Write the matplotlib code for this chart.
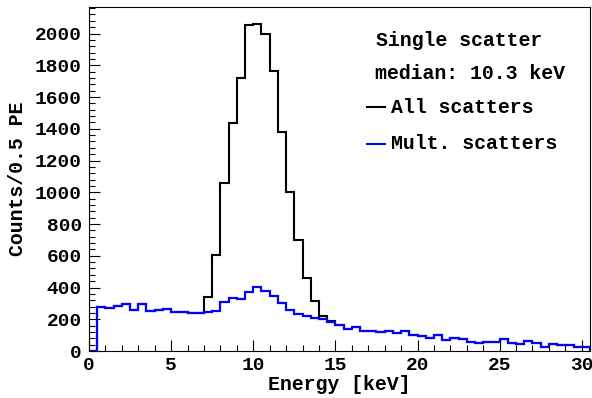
import numpy as np
import matplotlib
matplotlib.use("Agg")
import matplotlib.pyplot as plt
from matplotlib.ticker import MultipleLocator

# 0.5 keV bins from 0 to 30.5 keV
bin_edges = np.arange(0, 30.51, 0.5)

mult_scatters = [
    0, 276, 271, 281, 296, 256, 296, 252, 256, 262,
    248, 244, 237, 240, 249, 250, 307, 332, 325, 370,
    405, 376, 348, 302, 258, 236, 222, 211, 200, 185,
    162, 136, 152, 127, 127, 122, 129, 112, 129, 98,
    93, 80, 101, 71, 83, 76, 60, 53, 58, 59,
    78, 52, 45, 63, 50, 25, 43, 38, 38, 24, 27,
]

# all scatters: differs from the multiple-scatter curve only in the peak
all_scatters = list(mult_scatters)
peak = [338, 603, 1061, 1437, 1720, 2056, 2062, 2000, 1764, 1378,
        1002, 702, 460, 315, 221, 189]
all_scatters[14:14 + len(peak)] = peak

font = dict(family="Liberation Mono", weight="bold", size=14.3)

fig = plt.figure(figsize=(5.92, 3.98), dpi=100)
ax = fig.add_axes([0.1503, 0.118, 0.8463, 0.8644])

ax.stairs(all_scatters, bin_edges, color="black", lw=1.5)
ax.stairs(mult_scatters, bin_edges, color="#0000ff", lw=1.6)

ax.set_xlim(0, 30.5)
ax.set_ylim(0, 2167)
ax.xaxis.set_major_locator(MultipleLocator(5))
ax.xaxis.set_minor_locator(MultipleLocator(1))
ax.yaxis.set_major_locator(MultipleLocator(200))
ax.yaxis.set_minor_locator(MultipleLocator(40))
ax.tick_params(which="both", direction="in", top=False, right=False)
ax.tick_params(which="major", length=8, width=0.8)
ax.tick_params(which="minor", length=4, width=0.8)
ax.tick_params(axis="y", pad=5)
ax.tick_params(axis="x", pad=4)
for lab in ax.get_xticklabels() + ax.get_yticklabels():
    lab.set_fontfamily("Liberation Mono")
    lab.set_fontweight("bold")
    lab.set_fontsize(14)

ax.set_xlabel("Energy [keV]", labelpad=1, **font)
ax.set_ylabel("Counts/0.5 PE", labelpad=6, **font)

ax.text(0.572, 0.904, "Single scatter", transform=ax.transAxes, va="center", **font)
ax.text(0.570, 0.808, "median: 10.3 keV", transform=ax.transAxes, va="center", **font)
ax.plot([0.555, 0.590], [0.709, 0.709], transform=ax.transAxes, color="black", lw=1.5)
ax.text(0.603, 0.709, "All scatters", transform=ax.transAxes, va="center", **font)
ax.plot([0.555, 0.590], [0.603, 0.603], transform=ax.transAxes, color="#0000ff", lw=1.5)
ax.text(0.603, 0.603, "Mult. scatters", transform=ax.transAxes, va="center", **font)

fig.savefig("out.png", dpi=100)
